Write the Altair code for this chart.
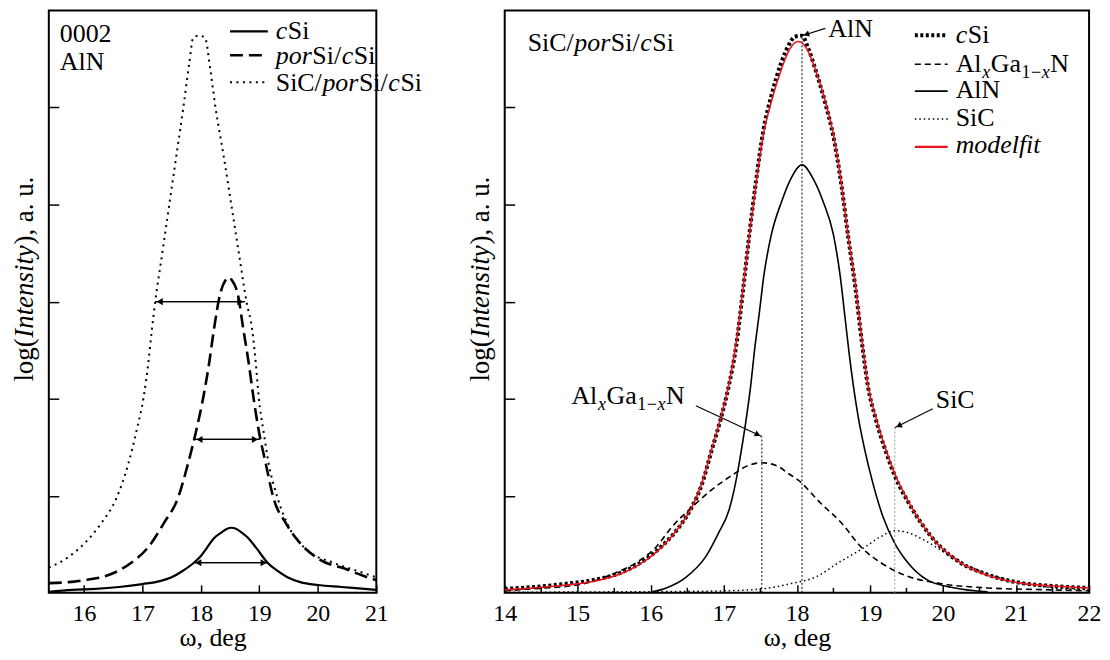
import math
import altair as alt
import pandas as pd

FONT = "Liberation Serif"
INK = "black"
RED = "#e8141b"

# ---------------- left panel: 0002 AlN rocking curves ----------------
left_csi_x = [15.4, 15.8, 16.2, 16.6, 17.0, 17.3, 17.5, 17.7, 17.88, 18.0, 18.1, 18.22, 18.35, 18.45,
              18.52, 18.6, 18.7, 18.8, 18.95, 19.14, 19.3, 19.48, 19.7, 20.0, 20.4, 20.8, 21.0]
left_csi_y = [0.01, 0.03, 0.04, 0.06, 0.09, 0.12, 0.16, 0.23, 0.31, 0.38, 0.46, 0.56, 0.62, 0.66,
              0.67, 0.66, 0.62, 0.57, 0.46, 0.31, 0.23, 0.16, 0.11, 0.08, 0.06, 0.04, 0.03]

left_por_x = [15.4, 15.74, 16.0, 16.3, 16.6, 16.81, 17.1, 17.37, 17.61, 17.78, 17.92, 18.04, 18.14, 18.22,
              18.33, 18.42, 18.48, 18.53, 18.63, 18.73, 18.82, 18.9, 18.99, 19.11, 19.24, 19.45, 19.7,
              20.04, 20.5, 20.8, 21.0]
left_por_y = [0.10, 0.11, 0.13, 0.16, 0.23, 0.31, 0.47, 0.72, 0.98, 1.33, 1.67, 2.01, 2.36, 2.70,
              3.08, 3.22, 3.25, 3.22, 3.08, 2.70, 2.36, 2.01, 1.67, 1.33, 0.98, 0.72, 0.51,
              0.34, 0.24, 0.17, 0.13]

left_sic_x = [15.4, 15.74, 16.01, 16.3, 16.56, 16.76, 16.9, 17.02, 17.1, 17.16, 17.22, 17.34, 17.46, 17.58,
              17.70, 17.80, 17.87, 17.97, 18.07, 18.16, 18.25, 18.39, 18.52, 18.65, 18.78, 18.88, 18.94,
              18.99, 19.07, 19.16, 19.31, 19.53, 19.82, 20.26, 20.6, 21.0]
left_sic_y = [0.26, 0.37, 0.51, 0.72, 0.98, 1.33, 1.67, 2.01, 2.36, 2.70, 3.00, 3.50, 4.00, 4.50,
              5.00, 5.45, 5.72, 5.74, 5.72, 5.40, 5.00, 4.50, 4.00, 3.50, 3.00, 2.70, 2.36,
              2.01, 1.67, 1.33, 0.98, 0.65, 0.44, 0.31, 0.24, 0.16]

fwhm_series = ["cSi", "porSi/cSi", "SiC/porSi/cSi"]
fwhm_level = [0.31, 1.58, 3.0]
fwhm_left = [17.88, 17.90, 17.22]
fwhm_right = [19.15, 19.00, 18.75]

# ---------------- right panel: SiC/porSi/cSi decomposition ----------------
right_meas_x = [14.0, 14.4, 14.8, 15.2, 15.6, 15.9, 16.15, 16.4, 16.56, 16.7, 16.83, 16.96, 17.07, 17.17,
                17.26, 17.35, 17.44, 17.54, 17.65, 17.78, 17.9, 17.97, 18.07, 18.15, 18.25, 18.39, 18.5,
                18.61, 18.7, 18.8, 18.9, 18.97, 19.08, 19.22, 19.36, 19.52, 19.7, 19.93, 20.24, 20.6,
                21.0, 21.5, 22.0]
right_meas_y = [0.04, 0.06, 0.09, 0.13, 0.21, 0.33, 0.48, 0.69, 0.88, 1.12, 1.46, 1.80, 2.14, 2.55,
                3.10, 3.70, 4.24, 4.76, 5.12, 5.45, 5.66, 5.73, 5.74, 5.62, 5.40, 5.04, 4.70,
                4.20, 3.68, 3.15, 2.52, 2.14, 1.79, 1.45, 1.17, 0.94, 0.72, 0.50, 0.31, 0.19,
                0.11, 0.07, 0.05]

right_fit_x = [14.0, 14.38, 14.84, 15.29, 15.66, 15.94, 16.15, 16.39, 16.56, 16.70, 16.83, 16.96, 17.07,
               17.17, 17.26, 17.35, 17.44, 17.54, 17.65, 17.79, 17.90, 18.02, 18.14, 18.25, 18.39, 18.50,
               18.61, 18.70, 18.80, 18.90, 18.97, 19.08, 19.22, 19.36, 19.52, 19.70, 19.93, 20.24, 20.61,
               21.06, 21.52, 22.0]
right_fit_y = [0.03, 0.05, 0.08, 0.13, 0.22, 0.34, 0.47, 0.68, 0.88, 1.13, 1.47, 1.81, 2.15,
               2.58, 3.12, 3.69, 4.21, 4.72, 5.06, 5.40, 5.60, 5.68, 5.60, 5.40, 5.06, 4.72,
               4.21, 3.69, 3.18, 2.55, 2.15, 1.81, 1.47, 1.19, 0.95, 0.72, 0.50, 0.31, 0.18,
               0.10, 0.07, 0.05]

right_algan_x = [14.0, 14.38, 15.06, 15.53, 15.80, 16.07, 16.29, 16.56, 16.83, 17.11, 17.30, 17.52, 17.75,
                 17.88, 18.02, 18.33, 18.61, 18.88, 19.15, 19.48, 19.93, 20.61, 21.52, 22.0]
right_algan_y = [0.02, 0.04, 0.09, 0.21, 0.31, 0.47, 0.68, 0.88, 1.06, 1.21, 1.30, 1.34, 1.30,
                 1.23, 1.16, 0.92, 0.72, 0.47, 0.31, 0.18, 0.10, 0.05, 0.03, 0.02]

right_aln_x = [16.02, 16.21, 16.48, 16.75, 16.93, 17.07, 17.16, 17.24, 17.31, 17.37, 17.42, 17.48, 17.55,
               17.65, 17.79, 17.92, 18.07, 18.22, 18.36, 18.50, 18.59, 18.66, 18.71, 18.77, 18.84, 18.93,
               19.04, 19.18, 19.34, 19.52, 19.79, 20.16, 20.61]
right_aln_y = [0.01, 0.05, 0.16, 0.37, 0.62, 0.85, 1.13, 1.47, 1.81, 2.15, 2.50, 2.85, 3.28,
               3.69, 4.03, 4.27, 4.41, 4.27, 4.03, 3.69, 3.28, 2.83, 2.50, 2.15, 1.81, 1.47,
               1.13, 0.78, 0.51, 0.31, 0.13, 0.05, 0.01]

right_sic_x = [14.0, 15.5, 16.5, 17.0, 17.52, 17.95, 18.25, 18.57, 18.93, 19.15, 19.34, 19.52, 19.70,
               20.06, 20.43, 20.84, 21.29, 22.0]
right_sic_y = [0.005, 0.01, 0.015, 0.02, 0.04, 0.10, 0.16, 0.31, 0.47, 0.58, 0.64, 0.62, 0.56,
               0.40, 0.25, 0.14, 0.07, 0.03]

peak_names = ["AlxGa1-xN", "AlN", "SiC"]
peak_pos = [17.52, 18.07, 19.34]
peak_top = [1.61, 5.74, 1.70]
peak_color = [INK, INK, "#999999"]

left_xticks = [16, 17, 18, 19, 20, 21]
right_xticks = [14, 15, 16, 17, 18, 19, 20, 21, 22]
right_minor = [14.5, 15.5, 16.5, 17.5, 18.5, 19.5, 20.5, 21.5]
y_ticks = [1, 2, 3, 4, 5]

# ---------------- geometry ----------------
Y0, Y1 = 0.0, 6.0
LP = dict(px=47, py=8, w=329, h=585, x0=15.4, x1=21.0, ticks=left_xticks)
RP = dict(px=505, py=8, w=587, h=585, x0=14.0, x1=22.0, ticks=right_xticks)


def pix2data(P, X, Y):
    return (P["x0"] + (X - P["px"]) / P["w"] * (P["x1"] - P["x0"]),
            Y1 - (Y - P["py"]) / P["h"] * (Y1 - Y0))


def x_axis(values):
    return alt.Axis(values=values, orient="bottom", offset=-8, tickSize=8, tickWidth=1.5, tickColor=INK,
                    domain=False, grid=False, labelFlush=False, labelPadding=28, labelBaseline="alphabetic",
                    labelFont=FONT, labelFontSize=24, labelColor=INK, format="d",
                    title="ω, deg", titleFont=FONT, titleFontSize=26, titleFontWeight="normal",
                    titleColor=INK, titleBaseline="alphabetic", titleY=61)


def y_axis():
    return alt.Axis(values=y_ticks, orient="left", offset=-10, tickSize=10, tickWidth=1.5, tickColor=INK,
                    domain=False, grid=False, labels=False, title=None)


def XE(P, field):
    return alt.X(field, type="quantitative",
                 scale=alt.Scale(domain=[P["x0"], P["x1"]], nice=False, zero=False),
                 axis=x_axis(P["ticks"]))


def YE(field):
    return alt.Y(field, type="quantitative",
                 scale=alt.Scale(domain=[Y0, Y1], nice=False, zero=False),
                 axis=y_axis())


REG = {' ': 250, '(': 333, ')': 333, ',': 250, '.': 250, '/': 278, '0': 500, '1': 500, '2': 500,
       'A': 722, 'C': 667, 'G': 722, 'N': 722, 'S': 556, 'a': 444, 'c': 444, 'd': 500, 'e': 444,
       'f': 333, 'g': 500, 'i': 278, 'l': 278, 'm': 778, 'n': 500, 'o': 500, 'p': 500, 'r': 333,
       's': 389, 't': 278, 'u': 500, 'x': 500, 'y': 500, '\u2212': 564}
ITA = {'I': 333, 'c': 444, 'd': 500, 'e': 444, 'f': 278, 'i': 278, 'l': 278, 'm': 722, 'n': 500,
       'o': 500, 'p': 500, 'r': 389, 's': 389, 't': 278, 'x': 444, 'y': 444}


def tw(s, size, ital):
    tbl = ITA if ital else REG
    return sum(tbl.get(ch, REG.get(ch, 500)) for ch in s) * size / 1000.0


def runs(P, pieces, X, Y, size=26, vertical=False, gap=0.6):
    rows = []
    pos = 0.0
    for p in pieces:
        text, ital = p[0], p[1]
        sz = p[2] if len(p) > 2 else size
        shift = p[3] if len(p) > 3 else 0
        if vertical:
            xx, yy = X + shift, Y - pos
        else:
            xx, yy = X + pos, Y + shift
        dx, dy = pix2data(P, xx, yy)
        rows.append(dict(tx=dx, ty=dy, text=text, italic=ital, fs=sz, ang=270 if vertical else 0))
        pos += tw(text, sz, ital) + gap
    return rows


def vtitle(P, X, center, size=27):
    pieces = [("log(", False), ("Intensity", True), ("), a. u.", False)]
    total = sum(tw(p[0], size, p[1]) for p in pieces)
    return runs(P, pieces, X, center + total / 2.0, size=size, vertical=True)


def text_layers(P, rows):
    df = pd.DataFrame(rows)
    out = []
    for ital in (False, True):
        sub = df[df["italic"] == ital]
        if len(sub) == 0:
            continue
        out.append(alt.Chart(sub).mark_text(
            align="left", baseline="alphabetic", font=FONT,
            fontStyle="italic" if ital else "normal", color=INK).encode(
            x=XE(P, "tx"), y=YE("ty"), text="text:N",
            size=alt.Size("fs:Q", scale=None),
            angle=alt.Angle("ang:Q", scale=None)))
    return out


def curve(P, xs, ys, style):
    df = pd.DataFrame({"w": xs, "v": ys})
    return alt.Chart(df).mark_line(interpolate="monotone", **style).encode(x=XE(P, "w"), y=YE("v"))


def sample(P, X1, X2, Y, style):
    a, v = pix2data(P, X1, Y)
    b, _ = pix2data(P, X2, Y)
    df = pd.DataFrame({"a": [a], "b": [b], "v": [v]})
    return alt.Chart(df).mark_rule(**style).encode(x=XE(P, "a"), x2="b:Q", y=YE("v"))


def arrows(P, x1s, y1s, x2s, y2s, head=50, width=1.3, back=5.5):
    sxp = P["w"] / (P["x1"] - P["x0"])
    syp = P["h"] / (Y1 - Y0)
    heads = []
    for a, b, c, d in zip(x1s, y1s, x2s, y2s):
        dx = (c - a) * sxp
        dy = -(d - b) * syp
        L = math.hypot(dx, dy)
        ux, uy = dx / L, dy / L
        ang = math.degrees(math.atan2(dx, -dy)) % 360
        heads.append(dict(hx=c - ux * back / sxp, hy=d + uy * back / syp, ha=ang))
    seg = pd.DataFrame({"a": x1s, "b": y1s, "c": x2s, "d": y2s})
    line = alt.Chart(seg).mark_rule(color=INK, strokeWidth=width).encode(
        x=XE(P, "a"), y=YE("b"), x2="c:Q", y2="d:Q")
    hd = alt.Chart(pd.DataFrame(heads)).mark_point(shape="triangle", filled=True, color=INK,
                                                   opacity=1, size=head, strokeWidth=0).encode(
        x=XE(P, "hx"), y=YE("hy"), angle=alt.Angle("ha:Q", scale=None))
    return [line, hd]


# ---------------- styles ----------------
S_L_CSI = dict(color=INK, strokeWidth=2.2)
S_L_POR = dict(color=INK, strokeWidth=2.6, strokeDash=[13, 6])
S_L_SIC = dict(color=INK, strokeWidth=2.0, strokeDash=[2, 4.5])
S_R_MEAS = dict(color=INK, strokeWidth=4.0, strokeDash=[3, 2.5])
S_R_ALGAN = dict(color=INK, strokeWidth=1.6, strokeDash=[6, 4])
S_R_ALN = dict(color=INK, strokeWidth=1.6)
S_R_SIC = dict(color=INK, strokeWidth=1.5, strokeDash=[1.5, 3])
S_R_FIT = dict(color=RED, strokeWidth=1.6)

# ---------------- left panel ----------------
left_layers = [
    curve(LP, left_csi_x, left_csi_y, S_L_CSI),
    curve(LP, left_por_x, left_por_y, S_L_POR),
    curve(LP, left_sic_x, left_sic_y, S_L_SIC),
    sample(LP, 229, 267, 29, S_L_CSI),
    sample(LP, 229, 267, 53, S_L_POR),
    sample(LP, 229, 267, 80, S_L_SIC),
]
left_layers += arrows(LP, fwhm_right, fwhm_level, fwhm_left, fwhm_level)
left_layers += arrows(LP, fwhm_left, fwhm_level, fwhm_right, fwhm_level)

left_text = []
left_text += runs(LP, [("0002", False)], 58, 40)
left_text += runs(LP, [("AlN", False)], 58, 68)
left_text += runs(LP, [("c", True), ("Si", False)], 275, 37)
left_text += runs(LP, [("por", True), ("Si/", False), ("c", True), ("Si", False)], 275, 62)
left_text += runs(LP, [("SiC/", False), ("por", True), ("Si/", False), ("c", True), ("Si", False)], 275, 89)
left_text += vtitle(LP, 31, 278.5)
left_layers += text_layers(LP, left_text)

left = alt.layer(*left_layers).properties(width=LP["w"], height=LP["h"])

# ---------------- right panel ----------------
peak_df = pd.DataFrame({"name": peak_names, "pos": peak_pos, "top": peak_top, "col": peak_color,
                        "zero": [0.0] * len(peak_names)})
peak_lines = alt.Chart(peak_df).mark_rule(strokeWidth=1, strokeDash=[2, 2]).encode(
    x=XE(RP, "pos"), y=YE("zero"), y2="top:Q", color=alt.Color("col:N", scale=None))
minor = alt.Chart(pd.DataFrame({"m": right_minor})).mark_rule(color=INK, strokeWidth=1.5).encode(
    x=XE(RP, "m"), y=alt.value(RP["h"]), y2=alt.value(RP["h"] - 5))

right_layers = [
    curve(RP, right_sic_x, right_sic_y, S_R_SIC),
    curve(RP, right_algan_x, right_algan_y, S_R_ALGAN),
    curve(RP, right_aln_x, right_aln_y, S_R_ALN),
    peak_lines,
    curve(RP, right_meas_x, right_meas_y, S_R_MEAS),
    curve(RP, right_fit_x, right_fit_y, S_R_FIT),
    minor,
    sample(RP, 917, 950, 33, S_R_MEAS),
    sample(RP, 917, 950, 62, S_R_ALGAN),
    sample(RP, 917, 950, 89, S_R_ALN),
    sample(RP, 917, 950, 117, S_R_SIC),
    sample(RP, 917, 950, 145, dict(color=RED, strokeWidth=2.2)),
]
starts = [pix2data(RP, 697, 405), pix2data(RP, 827, 26), pix2data(RP, 935, 408)]
right_layers += arrows(RP, [s[0] for s in starts], [s[1] for s in starts], peak_pos, peak_top,
                       head=42, width=1.1)


def algan():
    return [("Al", False), ("x", True, 18, 6), ("Ga", False), ("1", False, 18, 6),
            ("\u2212", False, 18, 6), ("x", True, 18, 6), ("N", False)]


right_text = []
right_text += runs(RP, [("SiC/", False), ("por", True), ("Si/", False), ("c", True), ("Si", False)], 528, 49)
right_text += runs(RP, [("c", True), ("Si", False)], 958, 41)
right_text += runs(RP, algan(), 958, 70)
right_text += runs(RP, [("AlN", False)], 958, 96)
right_text += runs(RP, [("SiC", False)], 958, 124)
right_text += runs(RP, [("modelfit", True)], 958, 151)
right_text += runs(RP, [("AlN", False)], 830, 35)
right_text += runs(RP, algan(), 572, 403)
right_text += runs(RP, [("SiC", False)], 938, 407)
right_text += vtitle(RP, 489, 278.5)
right_layers += text_layers(RP, right_text)

right = alt.layer(*right_layers).properties(width=RP["w"], height=RP["h"])

chart = alt.hconcat(left, right, spacing=RP["px"] - (LP["px"] + LP["w"]), bounds="flush",
                    padding={"left": 1, "top": 0, "right": 0, "bottom": 0},
                    background="white").configure_view(stroke=INK, strokeWidth=2)

chart.save("out.html", embed_options={"renderer": "svg", "actions": False})
